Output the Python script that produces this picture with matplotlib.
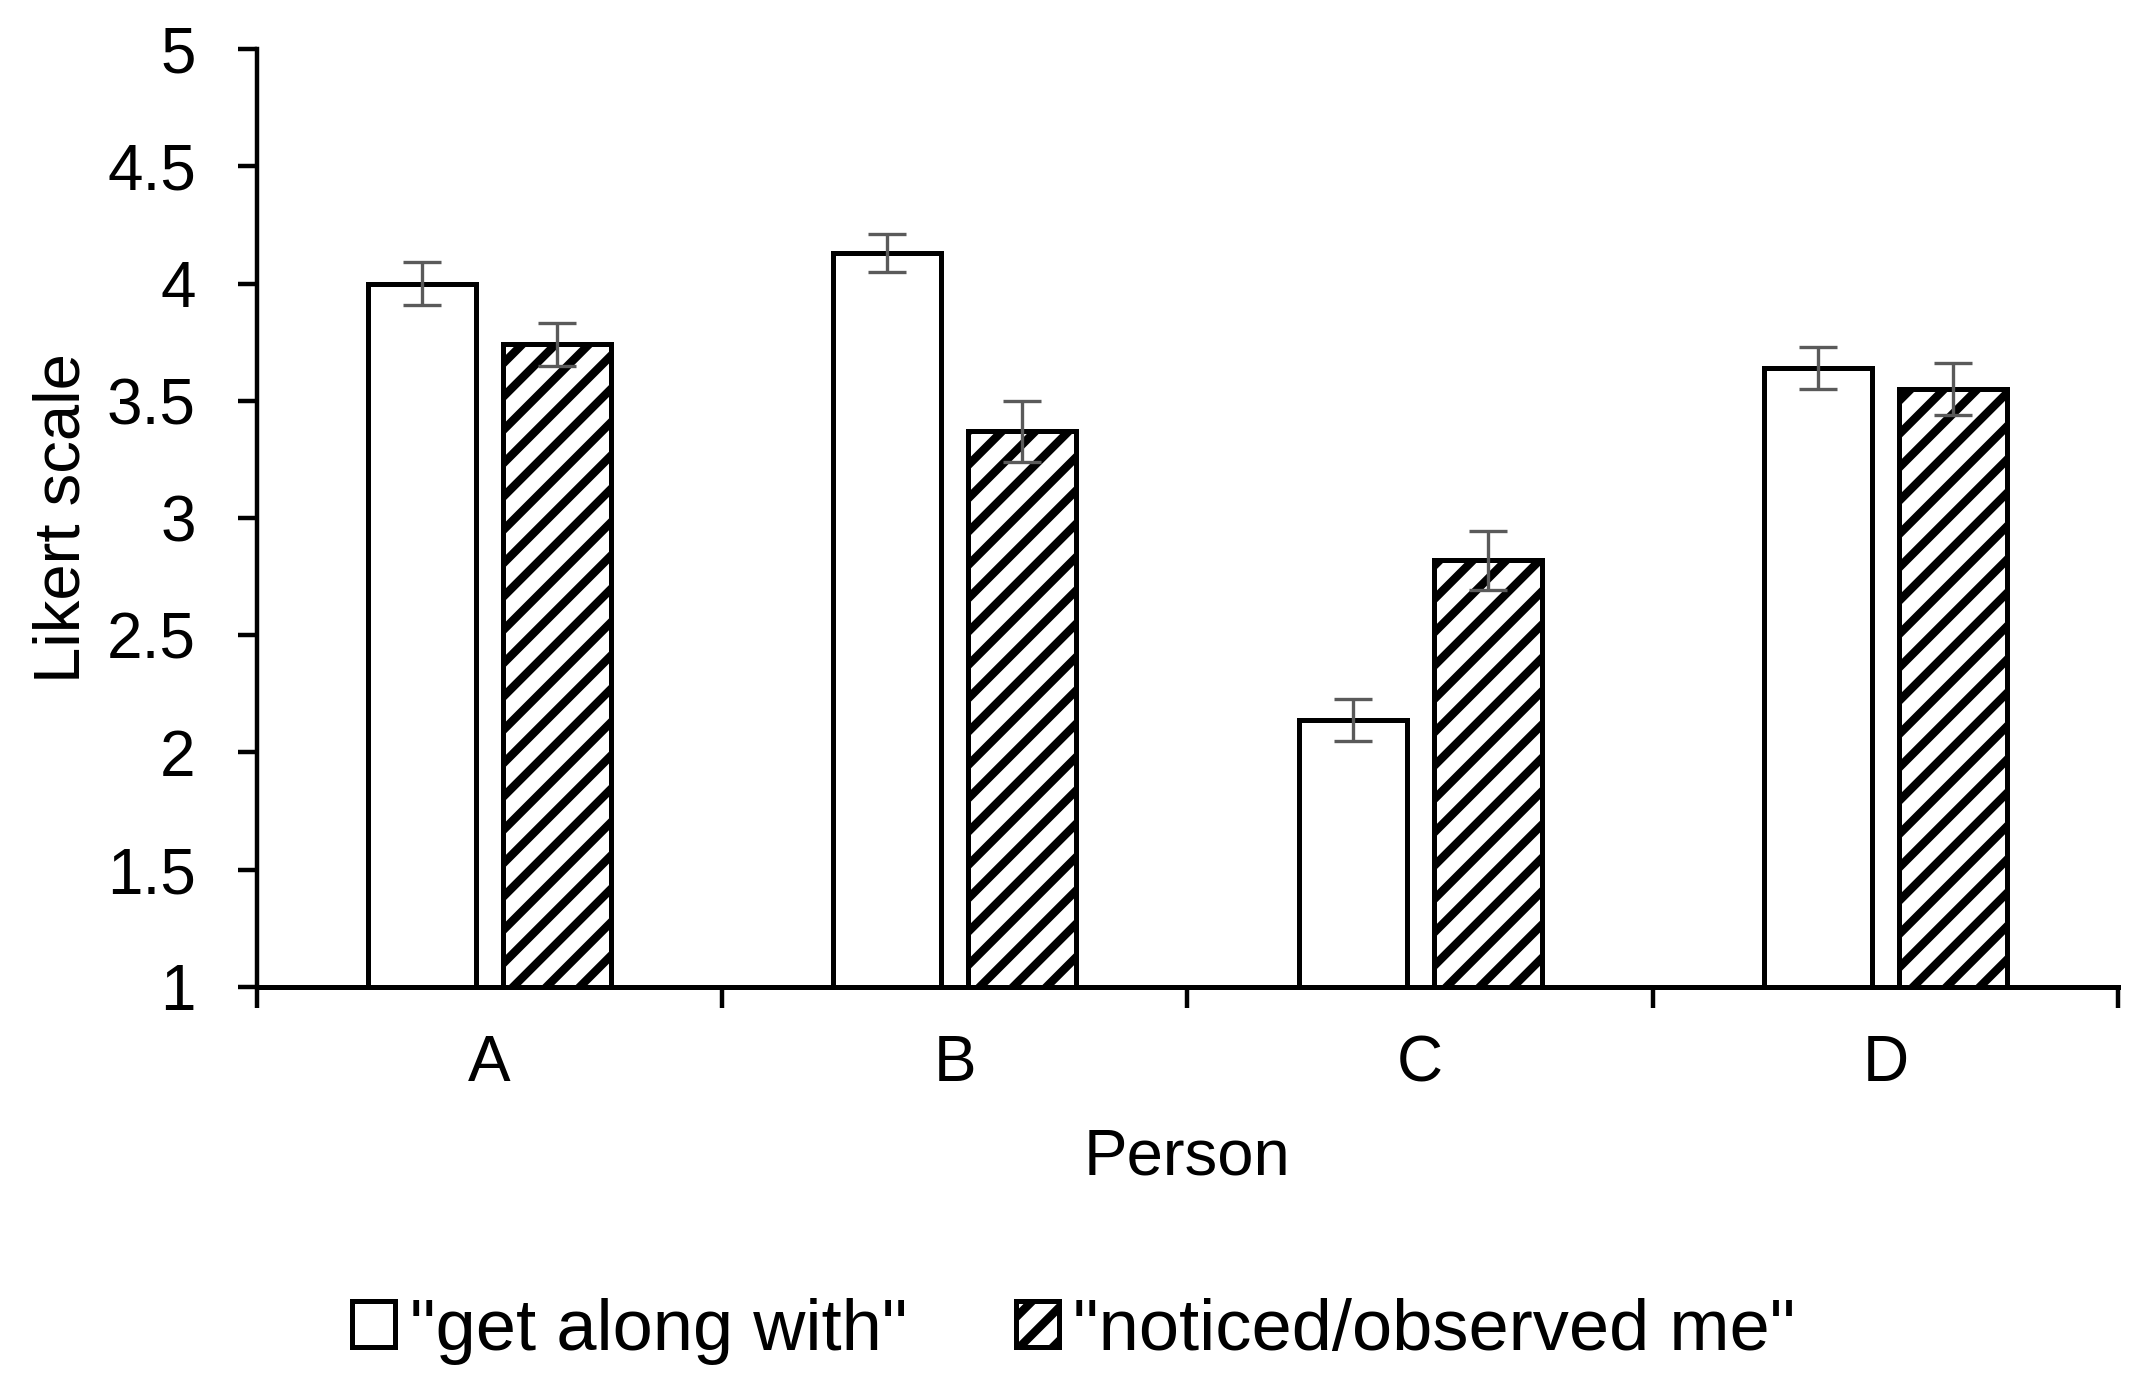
import numpy as np
import matplotlib
matplotlib.use('Agg')
from matplotlib import pyplot as plt

plt.rcParams['font.family'] = ['Liberation Sans', 'DejaVu Sans']
plt.rcParams['hatch.linewidth'] = 3.0

persons = ['A', 'B', 'C', 'D']
get_along = [4.00, 4.13, 2.14, 3.64]
get_along_err = [0.09, 0.08, 0.09, 0.09]
noticed = [3.74, 3.37, 2.82, 3.55]
noticed_err = [0.09, 0.13, 0.125, 0.11]
series_names = ['"get along with"', '"noticed/observed me"']

# half size at double dpi so the hatch stripes come out wide like the original
fig = plt.figure(figsize=(10.76, 6.985), dpi=200)
ax = fig.add_axes([0.1194, 0.2935, 0.8648, 0.6714])

x = np.arange(len(persons))
width = 0.232
off = 0.145

err_kw = dict(ecolor='#5a5a5a', elinewidth=1.2, capsize=7, capthick=1.2)
b1 = ax.bar(x - off, np.array(get_along) - 1, width, bottom=1, color='white',
            edgecolor='black', linewidth=1.8, label=series_names[0],
            yerr=get_along_err, error_kw=err_kw)
b2 = ax.bar(x + off, np.array(noticed) - 1, width, bottom=1, color='white',
            edgecolor='black', linewidth=1.8, hatch='//', label=series_names[1],
            yerr=noticed_err, error_kw=err_kw)

ax.set_xlim(-0.5, 3.5)
ax.set_ylim(1, 5)
ax.set_yticks(np.arange(1, 5.01, 0.5))
ax.set_yticklabels(['1', '1.5', '2', '2.5', '3', '3.5', '4', '4.5', '5'])
ax.set_xticks(x)
ax.set_xticklabels(persons)
ax.set_xticks(np.arange(-0.5, 3.6, 1), minor=True)

for s in ['top', 'right']:
    ax.spines[s].set_visible(False)
ax.spines['left'].set_linewidth(1.6)
ax.spines['bottom'].set_linewidth(1.8)

ax.tick_params(axis='y', length=7, width=1.6, labelsize=23, pad=15)
ax.tick_params(axis='x', which='major', length=0, labelsize=23, pad=17)
ax.tick_params(axis='x', which='minor', length=7.5, width=1.6)

ax.set_ylabel('Likert scale', fontsize=23.5)
ax.yaxis.set_label_coords(-0.0886, 0.5)
ax.set_xlabel('Person', fontsize=23.5, labelpad=12)

fig.legend(handles=[b1, b2], loc='center', bbox_to_anchor=(0.499, 0.047), ncol=2,
           frameon=False, fontsize=26, handlelength=0.6, handleheight=0.6,
           handletextpad=0.2, columnspacing=1.5)

fig.savefig('out.png', dpi=200)
